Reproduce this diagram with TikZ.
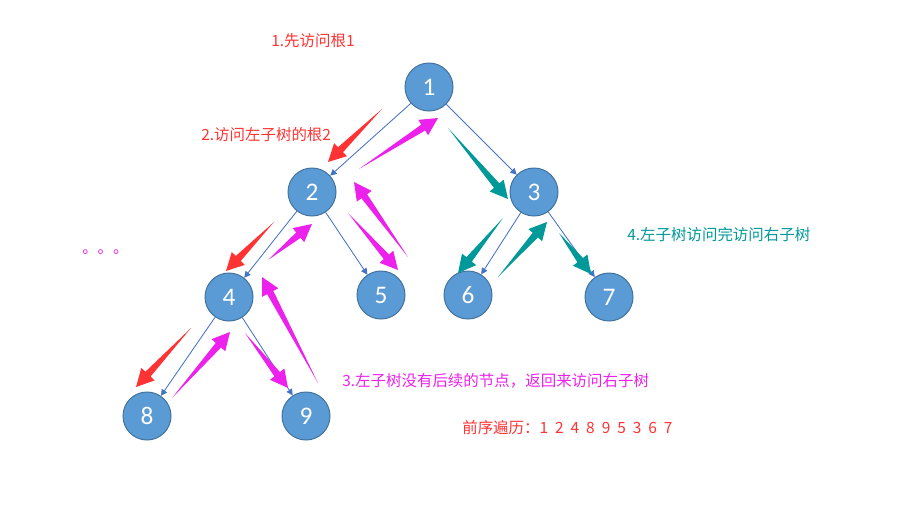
\documentclass[tikz,border=0pt]{standalone}
\usepackage{fontspec}
\setmainfont{Carlito}
\newfontfamily\cjk{Noto Sans CJK SC}
\usetikzlibrary{arrows.meta,calc}
\definecolor{lan}{RGB}{91,155,213}
\definecolor{lanbian}{RGB}{65,113,156}
\definecolor{xian}{RGB}{68,114,196}
\definecolor{hong}{RGB}{255,51,51}
\definecolor{fen}{RGB}{236,34,236}
\definecolor{qing}{RGB}{0,153,153}
% tapered arrow: colour, tail, tip
\newcommand{\fatarrow}[3]{%
  \coordinate (hb) at ($(#3)!12.5pt!(#2)$);
  \fill[#1] (#2) -- ($(hb)!2.5pt!90:(#3)$) -- ($(hb)!6.5pt!90:(#3)$) -- (#3)
    -- ($(hb)!6.5pt!-90:(#3)$) -- ($(hb)!2.5pt!-90:(#3)$) -- cycle;}
\newcommand{\jg}{\hspace{0.45em}}

\begin{document}
\begin{tikzpicture}[
        x=0.025cm,y=-0.025cm,
        jd/.style={circle,draw=lanbian,fill=lan,line width=0.7pt,
                   minimum size=1.2cm,inner sep=0pt,text=white,
                   font=\fontsize{18}{18}\selectfont},
        bian/.style={draw=xian,line width=0.6pt,
                     -{Triangle[length=4.5pt,width=4.5pt]}},
        biaoqian/.style={font=\cjk\fontsize{11}{13}\selectfont,
                         anchor=west,inner sep=0pt}]
        \useasboundingbox (0,0) rectangle (916,520);
        % tree
        \node[jd] (n1) at (429,87)  {1};
        \node[jd] (n2) at (312,192) {2};
        \node[jd] (n3) at (534,192) {3};
        \node[jd] (n4) at (229,297) {4};
        \node[jd] (n5) at (381,295) {5};
        \node[jd] (n6) at (468,295) {6};
        \node[jd] (n7) at (609,297) {7};
        \node[jd] (n8) at (147,416) {8};
        \node[jd] (n9) at (306,416) {9};
        \draw[bian] (n1)--(n2);
        \draw[bian] (n1)--(n3);
        \draw[bian] (n2)--(n4);
        \draw[bian] (n2)--(n5);
        \draw[bian] (n3)--(n6);
        \draw[bian] (n3)--(n7);
        \draw[bian] (n4)--(n8);
        \draw[bian] (n4)--(n9);
        % visiting order
        \coordinate (r1a) at (382,109); \coordinate (r1b) at (328,162);
        \coordinate (r2a) at (274,222); \coordinate (r2b) at (226,271);
        \coordinate (r3a) at (191,328); \coordinate (r3b) at (136,387);
        \coordinate (f1a) at (172,398); \coordinate (f1b) at (230,332);
        \coordinate (f2a) at (245,333); \coordinate (f2b) at (288,388);
        \coordinate (f3a) at (318,383); \coordinate (f3b) at (262,277);
        \coordinate (f4a) at (268,260); \coordinate (f4b) at (312,224);
        \coordinate (f5a) at (348,213); \coordinate (f5b) at (398,270);
        \coordinate (f6a) at (408,257); \coordinate (f6b) at (354,182);
        \coordinate (f7a) at (359,169); \coordinate (f7b) at (438,118);
        \coordinate (q1a) at (448,128); \coordinate (q1b) at (508,199);
        \coordinate (q2a) at (503,218); \coordinate (q2b) at (458,273);
        \coordinate (q3a) at (498,277); \coordinate (q3b) at (547,222);
        \coordinate (q4a) at (559,233); \coordinate (q4b) at (591,274);
        \fatarrow{hong}{r1a}{r1b}
        \fatarrow{hong}{r2a}{r2b}
        \fatarrow{hong}{r3a}{r3b}
        \fatarrow{fen}{f1a}{f1b}
        \fatarrow{fen}{f2a}{f2b}
        \fatarrow{fen}{f3a}{f3b}
        \fatarrow{fen}{f4a}{f4b}
        \fatarrow{fen}{f5a}{f5b}
        \fatarrow{fen}{f6a}{f6b}
        \fatarrow{fen}{f7a}{f7b}
        \fatarrow{qing}{q1a}{q1b}
        \fatarrow{qing}{q2a}{q2b}
        \fatarrow{qing}{q3a}{q3b}
        \fatarrow{qing}{q4a}{q4b}
        % notes
        \node[biaoqian,text=hong] (t1) at (271,41)  {1.先访问根1};
        \node[biaoqian,text=hong] (t2) at (201,135) {2.访问左子树的根2};
        \node[biaoqian,text=qing] (t4) at (627,235) {4.左子树访问完访问右子树};
        \node[biaoqian,text=fen]  (t3) at (342,381) {3.左子树没有后续的节点，返回来访问右子树};
        \node[biaoqian,text=hong] (t5) at (462,428)
          {前序遍历：1\jg2\jg4\jg8\jg9\jg5\jg3\jg6\jg7};
        \node[biaoqian,text=fen,anchor=base west] (dd) at (82,253) {。。。};
      \end{tikzpicture}
\end{document}
